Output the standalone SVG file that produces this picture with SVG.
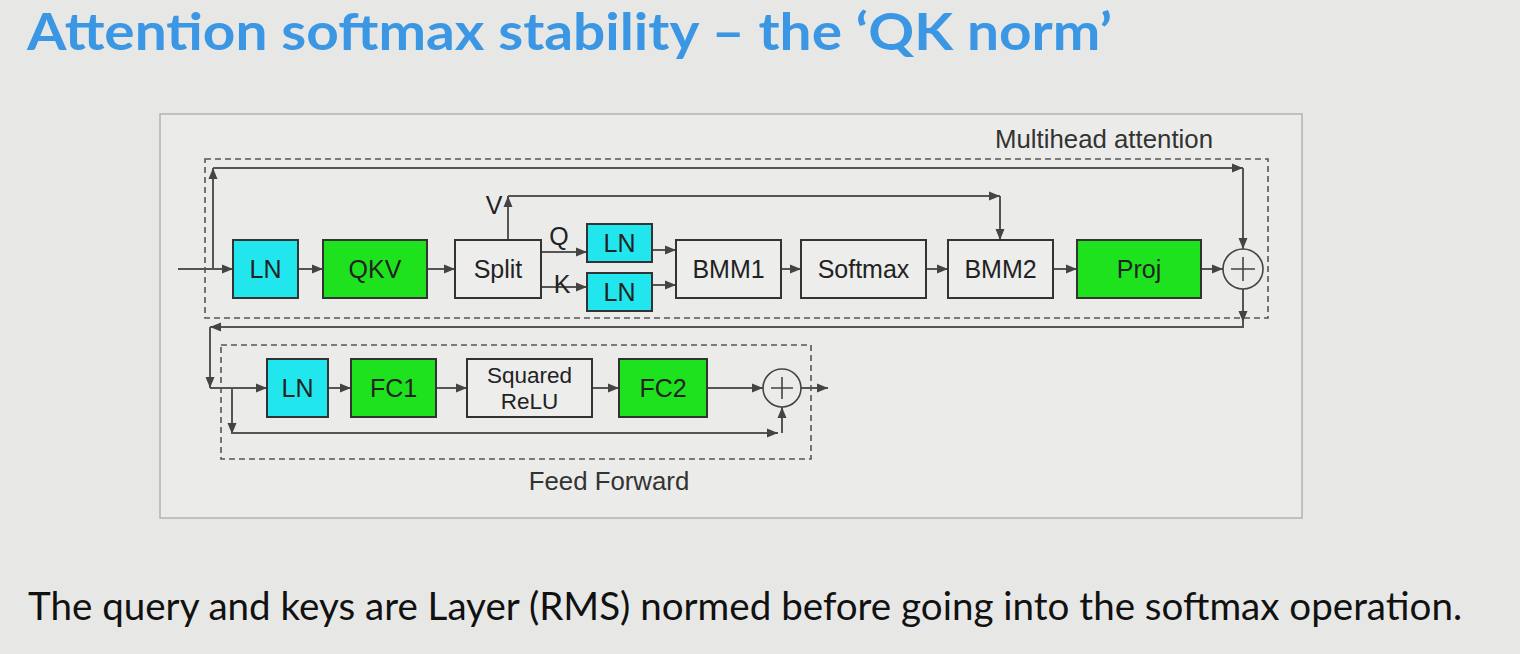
<svg xmlns="http://www.w3.org/2000/svg" width="1520" height="654" viewBox="0 0 1520 654">
<defs>
<marker id="ah" markerUnits="userSpaceOnUse" markerWidth="12" markerHeight="10" refX="11" refY="5" orient="auto">
<path d="M0,0.5 L11,5 L0,9.5 z" fill="#444"/>
</marker>
<style>
.box{stroke:#333;stroke-width:2}
.ln{fill:#22e6ee}
.gr{fill:#1fe21f}
.wh{fill:#ededec}
.lbl{font-family:"Liberation Sans",Arial,sans-serif;font-size:25px;fill:#222;text-anchor:middle}
.sm{font-size:22.5px}
.cap{font-family:"Liberation Sans",Arial,sans-serif;font-size:25.8px;fill:#333}
.dash{fill:none;stroke:#555;stroke-width:1.6;stroke-dasharray:6 4}
.con path{fill:none;stroke:#555;stroke-width:2}
.arr{marker-end:url(#ah)}
.sum{fill:none;stroke:#444;stroke-width:1.6}
</style>
</defs>
<rect width="1520" height="654" fill="#e7e8e6"/>
<text x="27" y="50" font-family="Lato,'Open Sans',sans-serif" font-weight="700" font-size="52" fill="#3b97e3" textLength="1085" lengthAdjust="spacingAndGlyphs">Attention softmax stability – the ‘QK norm’</text>
<rect x="160" y="114" width="1142" height="404" fill="#ebecea" stroke="#b3b3b3" stroke-width="1.5"/>
<text class="cap" x="995" y="148">Multihead attention</text>
<text class="cap" x="609" y="490" text-anchor="middle">Feed Forward</text>
<rect class="dash" x="205" y="159" width="1063" height="159"/>
<rect class="dash" x="221" y="345" width="590" height="114"/>
<g class="con">
<path class="arr" d="M178,269 H233"/>
<path class="arr" d="M213,269 V168"/>
<path class="arr" d="M213,168 H1243"/>
<path class="arr" d="M1243,168 V249"/>
<path class="arr" d="M508,240 V196"/>
<path class="arr" d="M508,196 H1000"/>
<path class="arr" d="M1000,196 V240"/>
<path class="arr" d="M298,269 H323"/>
<path class="arr" d="M427,269 H455"/>
<path class="arr" d="M541,252 H587"/>
<path class="arr" d="M541,287 H587"/>
<path class="arr" d="M652,250 H676"/>
<path class="arr" d="M652,285 H676"/>
<path class="arr" d="M781,269 H801"/>
<path class="arr" d="M926,269 H948"/>
<path class="arr" d="M1053,269 H1077"/>
<path class="arr" d="M1201,269 H1223"/>
<path class="arr" d="M1243,289 V322"/>
<path class="arr" d="M1243,322 V327 H210"/>
<path class="arr" d="M210,327 V388"/>
<path class="arr" d="M210,388 H267"/>
<path class="arr" d="M232,388 V434"/>
<path class="arr" d="M232,433 H778"/>
<path class="arr" d="M782,433 V407"/>
<path class="arr" d="M328,388 H351"/>
<path class="arr" d="M436,388 H467"/>
<path class="arr" d="M592,388 H619"/>
<path class="arr" d="M707,388 H763"/>
<path class="arr" d="M801,388 H828"/>
</g>
<text class="lbl" x="494" y="214">V</text>
<text class="lbl" x="559" y="245">Q</text>
<text class="lbl" x="562" y="293">K</text>
<g id="ln1"><rect class="box ln" x="233" y="240" width="65" height="58"/><text class="lbl" x="265.5" y="278">LN</text></g>
<g id="qkv"><rect class="box gr" x="323" y="240" width="104" height="58"/><text class="lbl" x="375" y="278">QKV</text></g>
<g id="split"><rect class="box wh" x="455" y="240" width="86" height="58"/><text class="lbl" x="498" y="278">Split</text></g>
<g id="lnq"><rect class="box ln" x="587" y="224" width="65" height="38"/><text class="lbl" x="619.5" y="252">LN</text></g>
<g id="lnk"><rect class="box ln" x="587" y="273" width="65" height="38"/><text class="lbl" x="619.5" y="301">LN</text></g>
<g id="bmm1"><rect class="box wh" x="676" y="240" width="105" height="58"/><text class="lbl" x="728.5" y="278">BMM1</text></g>
<g id="softmax"><rect class="box wh" x="801" y="240" width="125" height="58"/><text class="lbl" x="863.5" y="278">Softmax</text></g>
<g id="bmm2"><rect class="box wh" x="948" y="240" width="105" height="58"/><text class="lbl" x="1000.5" y="278">BMM2</text></g>
<g id="proj"><rect class="box gr" x="1077" y="240" width="124" height="58"/><text class="lbl" x="1139" y="278">Proj</text></g>
<g id="add1"><circle class="sum" cx="1243" cy="269" r="20"/><path class="sum" d="M1231,269 H1255 M1243,257 V281"/></g>
<g id="ln2"><rect class="box ln" x="267" y="359" width="61" height="58"/><text class="lbl" x="297.5" y="397">LN</text></g>
<g id="fc1"><rect class="box gr" x="351" y="359" width="85" height="58"/><text class="lbl" x="393.5" y="397">FC1</text></g>
<g id="sqrelu"><rect class="box wh" x="467" y="359" width="125" height="58"/><text class="lbl sm" x="529.5" y="383">Squared</text><text class="lbl sm" x="529.5" y="409">ReLU</text></g>
<g id="fc2"><rect class="box gr" x="619" y="359" width="88" height="58"/><text class="lbl" x="663" y="397">FC2</text></g>
<g id="add2"><circle class="sum" cx="782" cy="388" r="19"/><path class="sum" d="M771,388 H793 M782,377 V399"/></g>
<text x="28" y="620" font-family="Lato,'Open Sans',sans-serif" font-size="38" fill="#111" textLength="1434" lengthAdjust="spacingAndGlyphs">The query and keys are Layer (RMS) normed before going into the softmax operation.</text>
</svg>
